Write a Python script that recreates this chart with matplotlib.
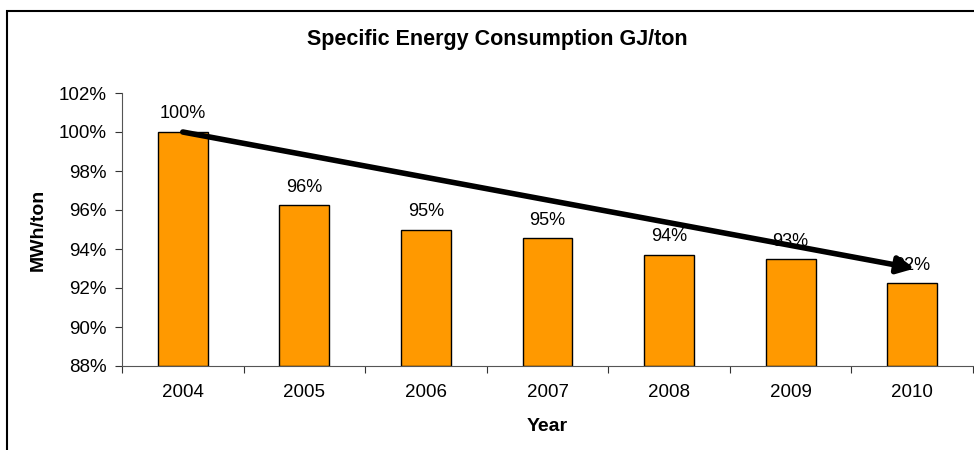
import matplotlib.pyplot as plt
from matplotlib.patches import Rectangle

plt.rcParams['font.family'] = ['Liberation Sans', 'DejaVu Sans']

years = ['2004', '2005', '2006', '2007', '2008', '2009', '2010']
values = [100.0, 96.24, 94.97, 94.55, 93.71, 93.47, 92.24]
labels = ['100%', '96%', '95%', '95%', '94%', '93%', '92%']
yticks = [88, 90, 92, 94, 96, 98, 100, 102]
trend_end = 93.0

fig = plt.figure(figsize=(9.74, 4.5), dpi=100)
ax = fig.add_axes([122/974, 1 - 366/450, 851/974, 273/450])

x = list(range(len(years)))
ax.bar(x, [v - 88 for v in values], bottom=88, width=0.41,
       color='#FF9900', edgecolor='black', linewidth=1, zorder=2)

for i, v in enumerate(values):
    ax.text(i, v + 0.5, labels[i], ha='center', va='bottom', fontsize=13, zorder=3)

ax.annotate('', xy=(len(years) - 1 + 0.02, trend_end), xytext=(0, values[0]),
            arrowprops=dict(arrowstyle='-|>,head_length=1.0,head_width=0.5',
                            color='black', lw=4, shrinkA=0, shrinkB=0),
            zorder=4)

ax.set_xlim(-0.5, len(years) - 0.5)
ax.set_ylim(88, 102)
ax.set_yticks(yticks)
ax.set_yticklabels([f'{t}%' for t in yticks], fontsize=13.5)
ax.set_xticks([i - 0.5 for i in range(len(years) + 1)])
ax.set_xticklabels([])
ax.set_xticks(x, minor=True)
ax.set_xticklabels(years, minor=True, fontsize=13.5)
ax.tick_params(axis='x', which='minor', length=0, pad=13)
ax.tick_params(axis='x', which='major', length=5, direction='out', color='#333333')
ax.tick_params(axis='y', length=5, direction='out', pad=6, color='#333333')

for s in ['top', 'right']:
    ax.spines[s].set_visible(False)
ax.spines['left'].set_color('#555555')
ax.spines['bottom'].set_color('#555555')

ax.set_xlabel('Year', fontsize=14, fontweight='bold', labelpad=12)
fig.text(38/974, 1 - 230/450, 'MWh/ton', rotation=90, ha='center', va='center',
         fontsize=14, fontweight='bold')
fig.text(497/974, 1 - 40/450, 'Specific Energy Consumption GJ/ton', ha='center',
         va='center', fontsize=15.5, fontweight='bold')

fig.patches.append(Rectangle((7/974, -0.1), 1.1, 1 - 11/450 + 0.1, transform=fig.transFigure,
                             fill=False, edgecolor='black', linewidth=1.5))

fig.savefig('out.png', dpi=100)
